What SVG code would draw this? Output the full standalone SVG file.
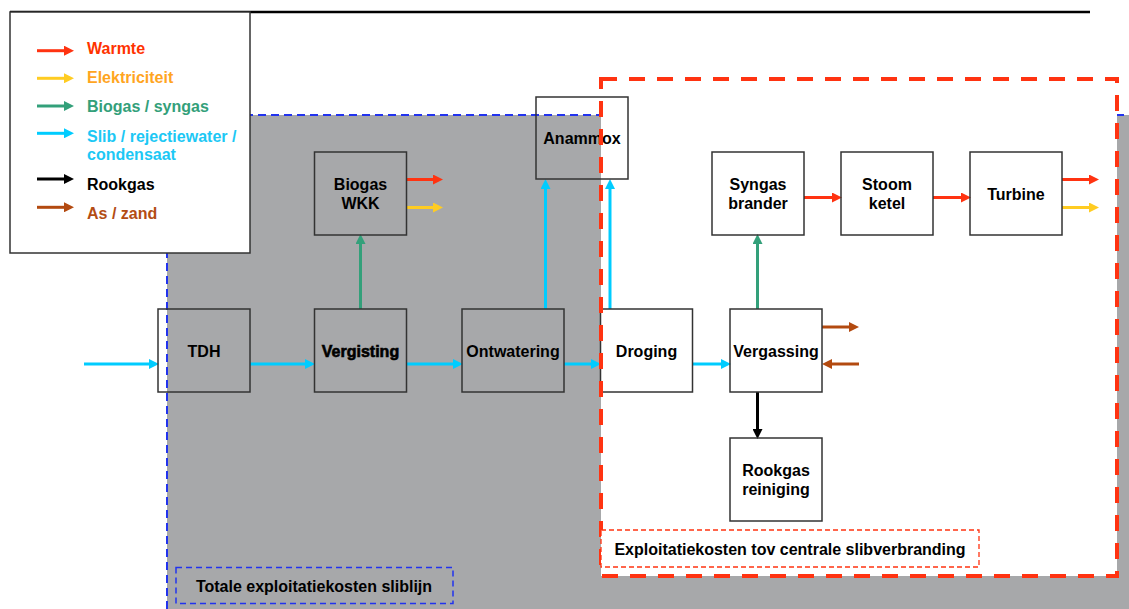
<svg xmlns="http://www.w3.org/2000/svg" width="1129" height="609" viewBox="0 0 1129 609">
<style>
  text { font-family: "Liberation Sans", Arial, sans-serif; font-weight: bold; font-size: 16px; }
  .lbl { text-anchor: middle; fill: #000; }
  .box { fill: none; stroke: #333; stroke-width: 1.5; }
  .c { fill: none; stroke-width: 3; }
  .red { stroke: #FF3311; }
  .yel { stroke: #FFCC22; }
  .grn { stroke: #33A07A; }
  .cya { stroke: #00CCFF; }
  .blk { stroke: #000; }
  .brn { stroke: #B34A10; }
</style>
<defs>
  <marker id="aRed" markerUnits="userSpaceOnUse" markerWidth="10" markerHeight="10" refX="0" refY="5" orient="auto"><path d="M0,0 L10,5 L0,10 z" fill="#FF3311"/></marker>
  <marker id="aYel" markerUnits="userSpaceOnUse" markerWidth="10" markerHeight="10" refX="0" refY="5" orient="auto"><path d="M0,0 L10,5 L0,10 z" fill="#FFCC22"/></marker>
  <marker id="aGrn" markerUnits="userSpaceOnUse" markerWidth="10" markerHeight="10" refX="0" refY="5" orient="auto"><path d="M0,0 L10,5 L0,10 z" fill="#33A07A"/></marker>
  <marker id="aCya" markerUnits="userSpaceOnUse" markerWidth="10" markerHeight="10" refX="0" refY="5" orient="auto"><path d="M0,0 L10,5 L0,10 z" fill="#00CCFF"/></marker>
  <marker id="aBlk" markerUnits="userSpaceOnUse" markerWidth="10" markerHeight="10" refX="0" refY="5" orient="auto"><path d="M0,0 L10,5 L0,10 z" fill="#000"/></marker>
  <marker id="aBrn" markerUnits="userSpaceOnUse" markerWidth="10" markerHeight="10" refX="0" refY="5" orient="auto"><path d="M0,0 L10,5 L0,10 z" fill="#B34A10"/></marker>
</defs>

<rect width="1129" height="609" fill="#fff"/>

<!-- Regions -->
<g id="region-sliblijn">
  <rect x="167" y="115" width="962" height="494" fill="#A7A8AA"/>
  <path d="M167,609 V115 H1129" fill="none" stroke="#2233EE" stroke-width="2" stroke-dasharray="8 5"/>
</g>
<g id="region-centraal-fill">
  <rect x="601" y="79" width="516" height="497" fill="#fff"/>
</g>

<!-- Top line -->
<line x1="10" y1="12" x2="1090" y2="12" stroke="#000" stroke-width="2.5"/>

<!-- Connectors -->
<g id="connectors">
  <line class="c cya" x1="84" y1="364" x2="149" y2="364" marker-end="url(#aCya)"/>
  <line class="c cya" x1="250" y1="364" x2="305" y2="364" marker-end="url(#aCya)"/>
  <line class="c cya" x1="407" y1="364" x2="453" y2="364" marker-end="url(#aCya)"/>
  <line class="c cya" x1="564" y1="364" x2="591" y2="364" marker-end="url(#aCya)"/>
  <line class="c cya" x1="693" y1="364" x2="721" y2="364" marker-end="url(#aCya)"/>
  <line class="c grn" x1="360.5" y1="309" x2="360.5" y2="244" marker-end="url(#aGrn)"/>
  <line class="c red" x1="407" y1="179.5" x2="433" y2="179.5" marker-end="url(#aRed)"/>
  <line class="c yel" x1="407" y1="207.5" x2="433" y2="207.5" marker-end="url(#aYel)"/>
  <line class="c cya" x1="545.5" y1="309" x2="545.5" y2="189" marker-end="url(#aCya)"/>
  <line class="c cya" x1="610" y1="309" x2="610" y2="189" marker-end="url(#aCya)"/>
  <line class="c grn" x1="757.5" y1="309" x2="757.5" y2="244" marker-end="url(#aGrn)"/>
  <line class="c red" x1="804" y1="197.5" x2="832" y2="197.5" marker-end="url(#aRed)"/>
  <line class="c red" x1="933" y1="197.5" x2="961" y2="197.5" marker-end="url(#aRed)"/>
  <line class="c red" x1="1062" y1="179.5" x2="1089" y2="179.5" marker-end="url(#aRed)"/>
  <line class="c yel" x1="1062" y1="207.5" x2="1089" y2="207.5" marker-end="url(#aYel)"/>
  <line class="c brn" x1="822" y1="327" x2="849" y2="327" marker-end="url(#aBrn)"/>
  <line class="c brn" x1="859" y1="364" x2="832" y2="364" marker-end="url(#aBrn)"/>
  <line class="c blk" x1="757.5" y1="392" x2="757.5" y2="429" marker-end="url(#aBlk)"/>
</g>

<!-- Nodes -->
<g id="node-tdh">
  <rect class="box" x="158" y="309" width="92" height="83"/>
  <text class="lbl" x="204" y="356.5">TDH</text>
</g>
<g id="node-vergisting">
  <rect class="box" x="314.5" y="309" width="92" height="83" stroke-width="2.2"/>
  <text class="lbl" x="360.5" y="356.5" stroke="#000" stroke-width="0.6">Vergisting</text>
</g>
<g id="node-biogas-wkk">
  <rect class="box" x="314.5" y="152" width="92" height="83"/>
  <text class="lbl" x="360.5" y="190">Biogas</text>
  <text class="lbl" x="360.5" y="208.5">WKK</text>
</g>
<g id="node-ontwatering">
  <rect class="box" x="462" y="309" width="102" height="83"/>
  <text class="lbl" x="513" y="356.5">Ontwatering</text>
</g>
<g id="node-anammox">
  <rect class="box" x="536" y="97" width="92" height="82"/>
  <text class="lbl" x="582" y="143.5">Anammox</text>
</g>
<g id="node-droging">
  <rect class="box" x="600.5" y="309" width="92" height="83"/>
  <text class="lbl" x="646.5" y="356.5">Droging</text>
</g>
<g id="node-vergassing">
  <rect class="box" x="730" y="309" width="92" height="83"/>
  <text class="lbl" x="776" y="356.5">Vergassing</text>
</g>
<g id="node-rookgas-reiniging">
  <rect class="box" x="730" y="438" width="92" height="83"/>
  <text class="lbl" x="776" y="476">Rookgas</text>
  <text class="lbl" x="776" y="495">reiniging</text>
</g>
<g id="node-syngas-brander">
  <rect class="box" x="712" y="152" width="92" height="83"/>
  <text class="lbl" x="758" y="190">Syngas</text>
  <text class="lbl" x="758" y="209">brander</text>
</g>
<g id="node-stoom-ketel">
  <rect class="box" x="841" y="152" width="92" height="83"/>
  <text class="lbl" x="887" y="190">Stoom</text>
  <text class="lbl" x="887" y="209">ketel</text>
</g>
<g id="node-turbine">
  <rect class="box" x="970" y="152" width="92" height="83"/>
  <text class="lbl" x="1016" y="200">Turbine</text>
</g>

<!-- Red dashed border on top of nodes -->
<g id="region-centraal-border">
  <rect x="601" y="79" width="516" height="497" fill="none" stroke="#FF3311" stroke-width="4" stroke-dasharray="16 12"/>
</g>

<!-- Region labels -->
<g id="label-centraal">
  <rect x="601" y="530" width="378" height="37" fill="#fff" stroke="#FF3311" stroke-width="1.3" stroke-dasharray="5 3"/>
  <text class="lbl" x="790" y="555" font-size="15.8">Exploitatiekosten tov centrale slibverbranding</text>
</g>
<g id="label-sliblijn">
  <rect x="176" y="567.5" width="277" height="36" fill="none" stroke="#2233EE" stroke-width="1.5" stroke-dasharray="6 4"/>
  <text class="lbl" x="314" y="591.5">Totale exploitatiekosten sliblijn</text>
</g>

<!-- Legend -->
<g id="legend">
  <rect x="10" y="12" width="240" height="241" fill="#fff" stroke="#333" stroke-width="1.5"/>
  <line class="c red" x1="37" y1="50.7" x2="64" y2="50.7" marker-end="url(#aRed)"/>
  <text x="87" y="54" fill="#FF3300">Warmte</text>
  <line class="c yel" x1="37" y1="78.3" x2="64" y2="78.3" marker-end="url(#aYel)"/>
  <text x="87" y="82.5" fill="#FFA51F">Elektriciteit</text>
  <line class="c grn" x1="37" y1="106" x2="64" y2="106" marker-end="url(#aGrn)"/>
  <text x="87" y="111.5" fill="#33A07A">Biogas / syngas</text>
  <line class="c cya" x1="37" y1="133.3" x2="64" y2="133.3" marker-end="url(#aCya)"/>
  <text x="87" y="141.5" fill="#1CC8F5">Slib / rejectiewater /</text>
  <text x="87" y="160" fill="#1CC8F5">condensaat</text>
  <line class="c blk" x1="37" y1="179" x2="64" y2="179" marker-end="url(#aBlk)"/>
  <text x="87" y="190" fill="#000">Rookgas</text>
  <line class="c brn" x1="37" y1="207.3" x2="64" y2="207.3" marker-end="url(#aBrn)"/>
  <text x="87" y="219.3" fill="#B34D14">As / zand</text>
</g>
</svg>
